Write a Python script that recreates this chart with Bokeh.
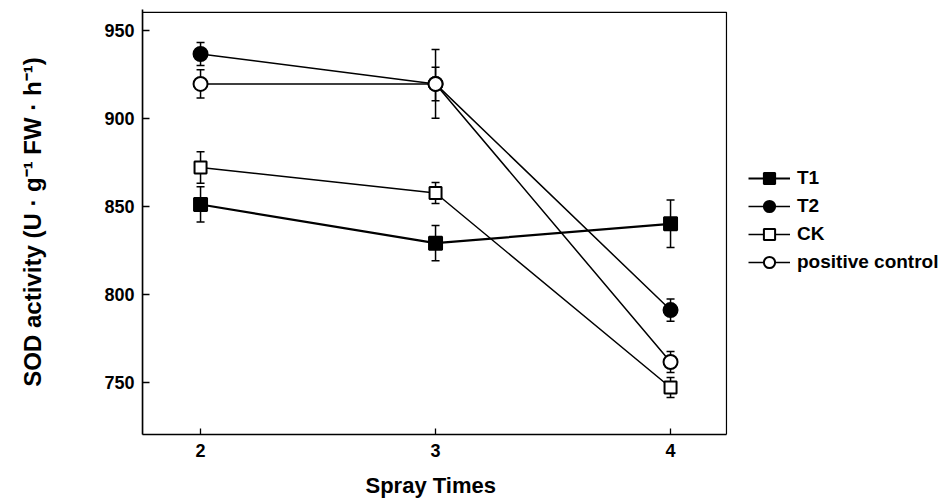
from bokeh.plotting import figure
from bokeh.models import (Range1d, ColumnDataSource, Whisker, TeeHead, Legend, LegendItem,
                          FixedTicker, BoxAnnotation, Title)
from bokeh.embed import file_html
from bokeh.resources import INLINE

# ---- data ----
spray = [2, 3, 4]
t1 = [851.0, 829.0, 840.0]
t1_err = [10.0, 10.0, 13.5]
t2 = [936.5, 919.5, 791.0]
t2_err = [6.5, 19.5, 6.3]
ck = [872.0, 857.5, 747.0]
ck_err = [9.0, 6.0, 5.7]
pc = [919.5, 919.5, 761.5]
pc_err = [8.0, 9.5, 6.0]
y_ticks = [750, 800, 850, 900, 950]

# ---- axis extents (the plotting box) ----
X_LO, X_BOX = 1.753, 4.238
Y_LO, Y_BOX = 720.3, 960.2
PX_PER_X = 235.0
PX_PER_Y = 1.76

W, H = 946, 501
LEFT, TOP, BOTTOM = 142, 9, 67
frame_w = W - LEFT
frame_h = H - TOP - BOTTOM
X_HI = X_LO + frame_w / PX_PER_X
Y_HI = Y_LO + frame_h / PX_PER_Y

FONT = "Liberation Sans"

p = figure(width=W, height=H, output_backend="svg", toolbar_location=None,
           x_range=Range1d(X_LO, X_HI), y_range=Range1d(Y_LO, Y_HI),
           min_border_left=LEFT, min_border_right=0, min_border_top=TOP,
           min_border_bottom=BOTTOM)
p.xgrid.visible = False
p.ygrid.visible = False
p.outline_line_color = None

p.add_layout(BoxAnnotation(left=X_LO, right=X_BOX, bottom=Y_LO, top=Y_BOX,
                           fill_alpha=0, line_color="black", line_alpha=1,
                           line_width=1.2, level="underlay"))

p.xaxis.ticker = FixedTicker(ticks=spray)
p.yaxis.ticker = FixedTicker(ticks=y_ticks)
p.xaxis.bounds = (X_LO, X_BOX)
for ax in (p.xaxis[0], p.yaxis[0]):
    ax.major_tick_out = 0
    ax.minor_tick_out = 0
    ax.minor_tick_in = 0
    ax.axis_line_width = 1.6
    ax.major_tick_line_width = 1.3
    ax.major_label_text_font = FONT
    ax.major_label_text_font_style = "bold"
    ax.major_label_text_font_size = "18px"
    ax.major_label_text_color = "black"
    ax.axis_label_text_font = FONT
    ax.axis_label_text_font_style = "bold"
    ax.axis_label_text_color = "black"
p.yaxis.axis_label_text_font_size = "24px"
p.xaxis.major_tick_in = 6
p.yaxis.major_tick_in = 7
p.xaxis.major_label_standoff = 9
p.yaxis.major_label_standoff = 8
p.yaxis.axis_label = "SOD activity (U \u00b7 g\u207b\u00b9 FW \u00b7 h\u207b\u00b9)"
p.yaxis.axis_label_standoff = 55
# small blank spacer so that the x title sits a little lower
p.xaxis.axis_label = "\u00a0"
p.xaxis.axis_label_text_font_size = "7px"
p.xaxis.axis_label_standoff = 0

# x-axis title, centred under the plotting box (not under the wider frame)
xlabel = Title(text="Spray Times", align="left", offset=223, standoff=2,
               text_font=FONT, text_font_style="bold", text_font_size="22px",
               text_color="black")
p.add_layout(xlabel, "below")

series = [
    ("T1", t1, t1_err, "square", "black", 2.2, 13),
    ("T2", t2, t2_err, "circle", "black", 1.5, 14),
    ("CK", ck, ck_err, "square", "white", 1.5, 12),
    ("positive control", pc, pc_err, "circle", "white", 1.5, 14),
]

items = []
lines = []
for name, vals, errs, marker, fill, lw, sz in series:
    src = ColumnDataSource(dict(x=spray, y=vals,
                                upper=[v + e for v, e in zip(vals, errs)],
                                lower=[v - e for v, e in zip(vals, errs)]))
    w = Whisker(source=src, base="x", upper="upper", lower="lower", dimension="height",
                line_width=1.5, line_color="black", level="underlay",
                upper_head=TeeHead(size=8, line_width=1.5, line_color="black"),
                lower_head=TeeHead(size=8, line_width=1.5, line_color="black"))
    p.add_layout(w)
    ln = p.line("x", "y", source=src, line_color="black", line_width=lw)
    lines.append((name, ln, src, marker, fill, sz))

for name, ln, src, marker, fill, sz in lines:
    sc = p.scatter("x", "y", source=src, marker=marker, size=sz, fill_color=fill,
                   line_color="black", line_width=2)
    items.append(LegendItem(label=name, renderers=[ln, sc]))

legend = Legend(items=items, location=(606, 158), orientation="vertical",
                glyph_width=42, glyph_height=28, spacing=0, label_standoff=7,
                label_height=28, padding=0, margin=0,
                border_line_color=None, background_fill_alpha=0,
                label_text_font=FONT, label_text_font_style="bold",
                label_text_font_size="19px", label_text_color="black")
p.add_layout(legend, "center")

open("out.html", "w").write(file_html(p, INLINE))
